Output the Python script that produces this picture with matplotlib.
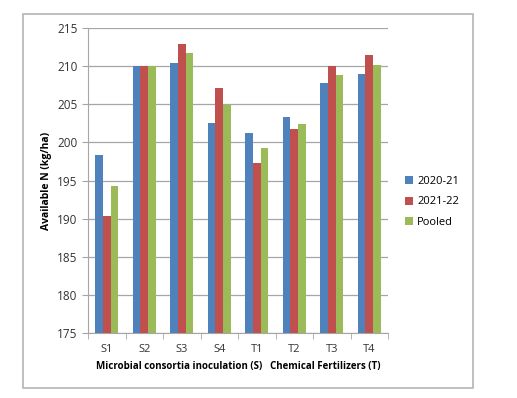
import matplotlib.pyplot as plt
import numpy as np
from matplotlib.patches import Rectangle

plt.rcParams['font.family'] = ['Open Sans', 'DejaVu Sans']

treatments = ['S1', 'S2', 'S3', 'S4', 'T1', 'T2', 'T3', 'T4']
series_names = ['2020-21', '2021-22', 'Pooled']
y_2020 = [198.3, 210.0, 210.4, 202.6, 201.2, 203.3, 207.8, 209.0]
y_2021 = [190.4, 210.0, 212.9, 207.1, 197.3, 201.7, 210.0, 211.5]
y_pooled = [194.3, 210.0, 211.7, 204.9, 199.3, 202.4, 208.9, 210.2]
colors = ['#4F81BD', '#C0504D', '#9BBB59']

fig = plt.figure(figsize=(5.17, 3.98), dpi=100)
ax = fig.add_axes([88 / 517, 1 - 333 / 398, 300 / 517, 305 / 398])

# outer chart border like the Excel chart area
fig.patches.append(Rectangle((23 / 517, 1 - 388 / 398), 450 / 517, 374 / 398,
                             transform=fig.transFigure, fill=False,
                             edgecolor='#B4B4B4', linewidth=1.2))

x = np.arange(len(treatments))
w = 0.205
for i, (vals, name) in enumerate(zip([y_2020, y_2021, y_pooled], series_names)):
    ax.bar(x + (i - 1) * w, np.array(vals) - 175, bottom=175, width=w,
           color=colors[i], label=name, zorder=3)

ax.set_ylim(175, 215)
ax.set_xlim(-0.5, len(treatments) - 0.5)
ax.set_yticks(np.arange(175, 216, 5))
ax.yaxis.grid(True, color='#A6A6A6', linewidth=0.9, zorder=0)
ax.set_xticks(x)
ax.set_xticklabels(treatments)
ax.set_xticks(np.arange(-0.5, len(treatments)), minor=True)
ax.tick_params(axis='x', which='major', length=0, labelsize=8, pad=8,
               labelcolor='#333333')
ax.tick_params(axis='x', which='minor', length=4, color='#A6A6A6', direction='out')
ax.tick_params(axis='y', length=4, color='#A6A6A6', labelsize=8.5, direction='out',
               labelcolor='#333333')

for side in ['top', 'right']:
    ax.spines[side].set_visible(False)
for side in ['left', 'bottom']:
    ax.spines[side].set_color('#A6A6A6')

ax.set_ylabel('Available N (kg/ha)', fontsize=7.5, fontweight='bold', labelpad=4)

fig.text(179 / 517, 1 - 367 / 398, 'Microbial consortia inoculation (S)',
         ha='center', va='center', fontsize=7, fontweight='bold')
fig.text(325 / 517, 1 - 367 / 398, 'Chemical Fertilizers (T)',
         ha='center', va='center', fontsize=7, fontweight='bold')

ax.legend(loc='center left', bbox_to_anchor=(395 / 517, 1 - 202 / 398),
          bbox_transform=fig.transFigure, frameon=False, fontsize=8,
          handlelength=0.7, handleheight=0.7, handletextpad=0.4,
          labelspacing=0.85)

fig.savefig('out.png', dpi=100)
